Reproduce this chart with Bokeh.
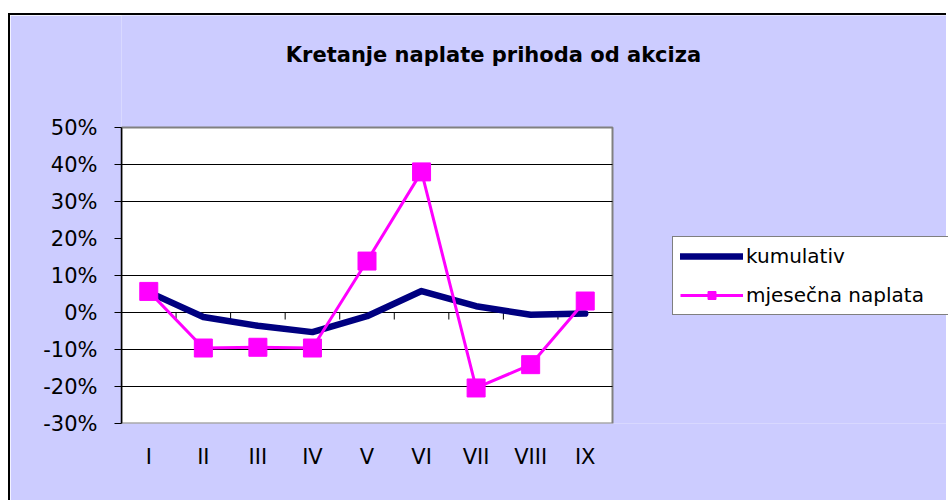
from bokeh.plotting import figure
from bokeh.models import (FixedTicker, NumeralTickFormatter, Legend, LegendItem, Label,
                          Range1d, ColumnDataSource)
from bokeh.embed import file_html
from bokeh.resources import INLINE

categories = ["I", "II", "III", "IV", "V", "VI", "VII", "VIII", "IX"]
kumulativ = [0.055, -0.012, -0.036, -0.053, -0.010, 0.058, 0.017, -0.006, -0.003]
mjesecna = [0.057, -0.096, -0.094, -0.096, 0.139, 0.380, -0.204, -0.141, 0.031]
y_ticks = [-0.3, -0.2, -0.1, 0.0, 0.1, 0.2, 0.3, 0.4, 0.5]
grid_ticks = [-0.2, -0.1, 0.0, 0.1, 0.3, 0.4]
title_text = "Kretanje naplate prihoda od akciza"

FONT = "DejaVu Sans"
BG = "#CCCCFF"

# layout (pixels)
FIG_W, FIG_H = 938, 487
LEFT, BOTTOM = 111, 79
PLOT_W, PLOT_H = 491, 296           # white plot area
frame_w = FIG_W - LEFT
frame_h = FIG_H - BOTTOM
n = len(categories)
x_end = n * frame_w / PLOT_W
y0, y1 = y_ticks[0], y_ticks[-1]
y_top = y0 + (y1 - y0) * frame_h / PLOT_H

xs = [i + 0.5 for i in range(n)]
src = ColumnDataSource(dict(x=xs, k=kumulativ, m=mjesecna))

p = figure(width=FIG_W, height=FIG_H, output_backend="svg", toolbar_location=None,
           x_range=Range1d(0, x_end), y_range=Range1d(y0, y_top),
           min_border_left=LEFT, min_border_right=0, min_border_top=0, min_border_bottom=BOTTOM,
           background_fill_color=BG, border_fill_color=BG, outline_line_color=None)
p.styles = {"border-left": "2px solid black", "border-top": "2px solid black",
            "margin-top": "13px", "margin-left": "8px"}

# axes
p.yaxis.ticker = FixedTicker(ticks=y_ticks)
p.yaxis.bounds = (y0, y1)
p.yaxis.formatter = NumeralTickFormatter(format="0%")
p.yaxis.axis_line_color = "black"
p.yaxis.axis_line_width = 1.5
p.yaxis.major_tick_line_color = "black"
p.yaxis.major_tick_out = 7
p.yaxis.major_tick_in = 0
p.yaxis.minor_tick_line_color = None
p.yaxis.major_label_standoff = 17
p.yaxis.major_label_text_font = FONT
p.yaxis.major_label_text_font_size = "21px"
p.yaxis.major_label_text_color = "black"

p.xaxis.ticker = FixedTicker(ticks=xs)
p.xaxis.major_label_overrides = {x: c for x, c in zip(xs, categories)}
p.xaxis.axis_line_color = None
p.xaxis.major_tick_line_color = None
p.xaxis.minor_tick_line_color = None
p.xaxis.major_label_standoff = 15
p.xaxis.major_label_text_font = FONT
p.xaxis.major_label_text_font_size = "21px"
p.xaxis.major_label_text_color = "black"

p.xgrid.grid_line_color = None
p.ygrid.grid_line_color = None

# white plot area with grey border
p.quad(left=[0], right=[n], bottom=[y0], top=[y1],
       fill_color="white", line_color="#808080", line_width=2)

# horizontal gridlines within the plot area
p.segment(x0=[0] * len(grid_ticks), x1=[n] * len(grid_ticks), y0=grid_ticks, y1=grid_ticks,
          line_color="black", line_width=1)

# category tick marks on the zero line
bounds = list(range(1, n))
p.segment(x0=bounds, x1=bounds, y0=[0] * len(bounds), y1=[-0.019] * len(bounds),
          line_color="black", line_width=1)

# series
kr = p.line("x", "k", source=src, line_color="#000080", line_width=6.5,
            line_join="round", line_cap="round")
mr = p.line("x", "m", source=src, line_color="#FF00FF", line_width=3)
ms = p.scatter("x", "m", source=src, marker="square", size=18,
               fill_color="#FF00FF", line_color="#FF00FF")

legend = Legend(items=[LegendItem(label="kumulativ", renderers=[kr]),
                       LegendItem(label="mjesečna naplata", renderers=[mr, ms])],
                location=(551, 108), orientation="vertical",
                border_line_color="black", border_line_width=1,
                background_fill_color="white", background_fill_alpha=1,
                label_text_font=FONT, label_text_font_size="20px", label_text_color="black",
                glyph_width=63, glyph_height=20, label_height=20, label_width=200,
                label_standoff=3, spacing=15, padding=7, margin=0)
p.add_layout(legend, "center")

title = Label(x=372, y=369, x_units="screen", y_units="screen", text=title_text,
              text_align="center", text_baseline="middle",
              text_font=FONT, text_font_style="bold", text_font_size="21px",
              text_color="black")
p.add_layout(title)

open("out.html", "w").write(file_html(p, INLINE))
